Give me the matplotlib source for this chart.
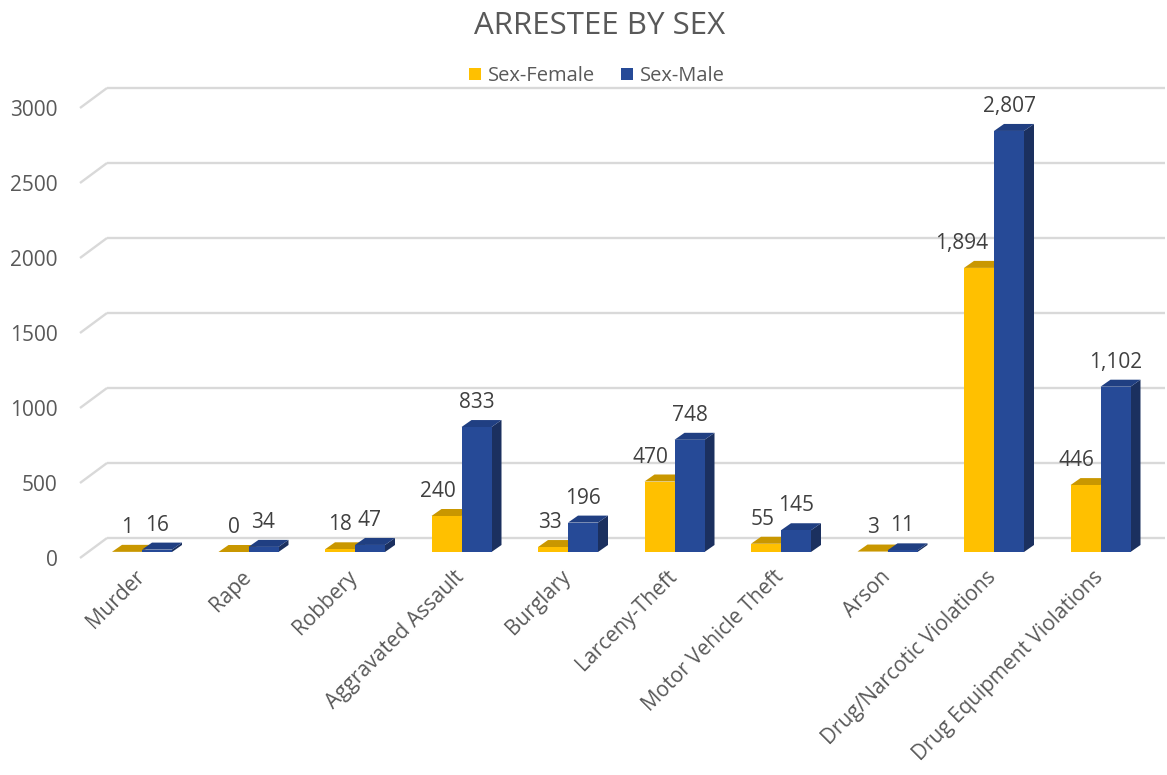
import matplotlib
matplotlib.use('Agg')
import matplotlib.pyplot as plt
from matplotlib.patches import Polygon, Patch

categories = ["Murder", "Rape", "Robbery", "Aggravated Assault", "Burglary",
              "Larceny-Theft", "Motor Vehicle Theft", "Arson",
              "Drug/Narcotic Violations", "Drug Equipment Violations"]
female = [1, 0, 18, 240, 33, 470, 55, 3, 1894, 446]
male = [16, 34, 47, 833, 196, 748, 145, 11, 2807, 1102]
yticks = [0, 500, 1000, 1500, 2000, 2500, 3000]
series_names = ["Sex-Female", "Sex-Male"]
title = "ARRESTEE BY SEX"

FONT = "Open Sans"
TXT = "#595959"
GRID = "#d9d9d9"
front_cols = ["#FFC000", "#264A97"]
top_cols = ["#C99700", "#203F82"]
side_cols = ["#B38600", "#1B305F"]

W, H = 1167, 775
fig = plt.figure(figsize=(W / 100, H / 100), dpi=100)
plt.rcParams['font.family'] = [FONT, 'DejaVu Sans']

# axes frame = front plane (pixels)
ax_l, ax_r, ax_b, ax_t = 80, 1138, 558, 88
ax = fig.add_axes([ax_l / W, 1 - ax_b / H, (ax_r - ax_l) / W, (ax_b - ax_t) / H])
x0px, step = 134, 106.5
ax.set_xlim((ax_l - x0px) / step, (ax_r - x0px) / step)
ax.set_ylim(0, (ax_b - ax_t) / 0.15)
xl0, xl1 = ax.get_xlim()
yl0, yl1 = ax.get_ylim()
ux = (xl1 - xl0) / (ax_r - ax_l)   # data units per pixel
uy = (yl1 - yl0) / (ax_b - ax_t)

wall_dx, wall_dy = 27 * ux, 20 * uy
plane_dx, plane_dy = 8 * ux, 6 * uy
depth_dx, depth_dy = 10 * ux, 7 * uy
bw = 30 * ux

for s in ax.spines.values():
    s.set_visible(False)
ax.set_facecolor('none')

# gridlines (back wall + left diagonal)
for v in yticks:
    ax.plot([xl0, xl0 + wall_dx], [v, v + wall_dy], color=GRID, lw=1.7,
            clip_on=False, zorder=1, solid_capstyle='butt')
    ax.plot([xl0 + wall_dx, xl1 + wall_dx], [v + wall_dy, v + wall_dy],
            color=GRID, lw=1.7, clip_on=False, zorder=1, solid_capstyle='butt')

# bars
z = 3
for i in range(len(categories)):
    for k, vals in enumerate([female, male]):
        v = vals[i]
        left = i + plane_dx + (k - 1) * bw
        right = left + bw
        base = plane_dy
        top = base + v
        side = Polygon([(right, base), (right + depth_dx, base + depth_dy),
                        (right + depth_dx, top + depth_dy), (right, top)],
                       closed=True, facecolor=side_cols[k], edgecolor='none',
                       zorder=z, clip_on=False)
        topf = Polygon([(left, top), (right, top),
                        (right + depth_dx, top + depth_dy),
                        (left + depth_dx, top + depth_dy)],
                       closed=True, facecolor=top_cols[k], edgecolor='none',
                       zorder=z, clip_on=False)
        ax.add_patch(side)
        ax.add_patch(topf)
        ax.bar(left, v, width=bw, bottom=base, align='edge',
               color=front_cols[k], zorder=z + 0.5, clip_on=False,
               linewidth=0)
        z += 1

# data labels
renderer = fig.canvas.get_renderer()
label_gap = 5
for i in range(len(categories)):
    for k, vals in enumerate([female, male]):
        v = vals[i]
        left = i + plane_dx + (k - 1) * bw
        cx = left + bw / 2
        ty = plane_dy + v + depth_dy
        t = ax.annotate(f"{v:,}", xy=(cx, ty), xytext=(0, label_gap),
                        textcoords='offset points', ha='center', va='bottom',
                        fontsize=15, color="#404040", zorder=50,
                        annotation_clip=False)
        if k == 0:
            bb = t.get_window_extent(renderer)
            limit_px = ax.transData.transform((i + plane_dx, 0))[0] - 6
            if bb.x1 > limit_px and male[i] > v + 40:
                shift = bb.x1 - limit_px
                t.set_position((-shift * 72 / 100, label_gap))

# y tick labels
ax.set_yticks(yticks)
ax.set_yticklabels([str(v) for v in yticks], fontsize=15, color=TXT)
ax.tick_params(axis='y', length=0, pad=16)

# x tick labels
ax.set_xticks(range(len(categories)))
ax.set_xticklabels(categories, rotation=45, ha='right', rotation_mode='anchor',
                   fontsize=15, color=TXT)
ax.tick_params(axis='x', length=0, pad=6)

# title & legend
fig.text(600 / W, 1 - 26 / H, title, ha='center', va='center', fontsize=22.5,
         color=TXT)
handles = [Patch(facecolor=front_cols[0], edgecolor='none'),
           Patch(facecolor=front_cols[1], edgecolor='none')]
fig.legend(handles, series_names, loc='center', bbox_to_anchor=(597 / W, 1 - 76 / H),
           ncol=2, frameon=False, fontsize=14.5, labelcolor=TXT,
           handlelength=0.6, handleheight=0.6, handletextpad=0.35,
           columnspacing=1.3)

fig.savefig("out.png", dpi=100, facecolor='white')
